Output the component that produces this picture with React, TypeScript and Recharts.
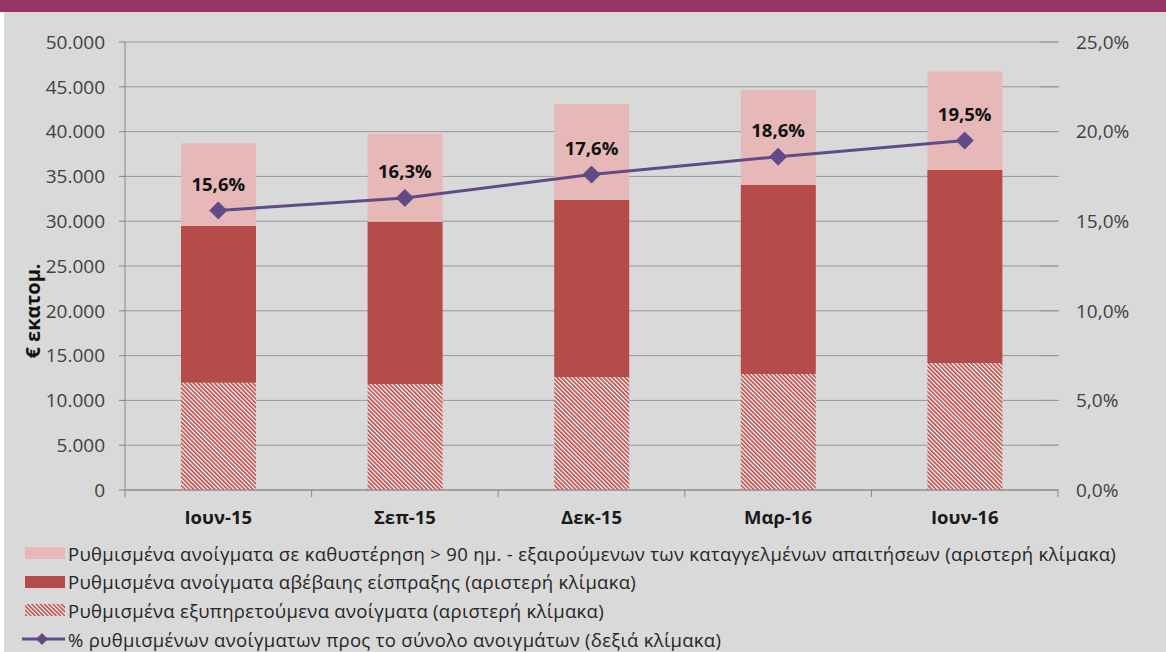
import React from 'react';
import { ComposedChart, Bar, Line, XAxis, YAxis, CartesianGrid, LabelList } from 'recharts';

const categories = ['Ιουν-15', 'Σεπ-15', 'Δεκ-15', 'Μαρ-16', 'Ιουν-16'];
const performing = [11980, 11830, 12600, 12950, 14170];
const uncertain = [17480, 18100, 19770, 21090, 21540];
const overdue = [9240, 9870, 10710, 10600, 11000];
const ratio = [15.6, 16.3, 17.6, 18.6, 19.5];

const leftTicks = [0, 5000, 10000, 15000, 20000, 25000, 30000, 35000, 40000, 45000, 50000];
const rightTicks = [0, 2.5, 5, 7.5, 10, 12.5, 15, 17.5, 20, 22.5, 25];

const legendLabels = [
  'Ρυθμισμένα ανοίγματα σε καθυστέρηση > 90 ημ. - εξαιρούμενων των καταγγελμένων απαιτήσεων (αριστερή κλίμακα)',
  'Ρυθμισμένα ανοίγματα αβέβαιης είσπραξης (αριστερή κλίμακα)',
  'Ρυθμισμένα εξυπηρετούμενα ανοίγματα (αριστερή κλίμακα)',
  '% ρυθμισμένων ανοίγματων προς το σύνολο ανοιγμάτων (δεξιά κλίμακα)',
];
const yAxisTitle = '€ εκατομ.';

const data = categories.map((c, i) => ({
  cat: c,
  performing: performing[i],
  uncertain: uncertain[i],
  overdue: overdue[i],
  ratio: ratio[i],
}));

const FONT = '"Open Sans", sans-serif';
const PINK = '#e6b9b8';
const RED = '#b64c4a';
const PURPLE = '#604a87';
const AXIS = '#868686';
const GRID = '#989898';
const TEXT = '#404040';

const fmtThousands = (n: number) => String(n).replace(/\B(?=(\d{3})+(?!\d))/g, '.');
const fmtPct = (n: number) => n.toFixed(1).replace('.', ',') + '%';

const XTick = (props: any) => {
  const { x, y, payload, index, visibleTicksCount } = props;
  const half = payload && payload.offset ? payload.offset : 93.3;
  return (
    <g>
      <line x1={x - half} x2={x - half} y1={y} y2={y + 7} stroke={AXIS} strokeWidth={1} />
      {index === visibleTicksCount - 1 && (
        <line x1={x + half} x2={x + half} y1={y} y2={y + 7} stroke={AXIS} strokeWidth={1} />
      )}
      <text x={x} y={y + 34} textAnchor="middle" fontFamily={FONT} fontWeight="bold" fontSize={18.5} fill="#1a1a1a">
        {payload.value}
      </text>
    </g>
  );
};

const RightTick = (props: any) => {
  const { x, y, payload } = props;
  const v = payload.value;
  const major = Math.abs(v / 5 - Math.round(v / 5)) < 1e-6;
  return (
    <g>
      <line x1={x - 18} x2={x + 1} y1={y} y2={y} stroke={GRID} strokeWidth={1} />
      {major && (
        <text x={x + 18} y={y} dy="0.36em" textAnchor="start" fontFamily={FONT} fontSize={19} fill={TEXT}>
          {fmtPct(v)}
        </text>
      )}
    </g>
  );
};

const Diamond = (props: any) => {
  const { cx, cy } = props;
  if (cx == null || cy == null) return null;
  const r = 8.5;
  return (
    <polygon
      points={`${cx},${cy - r} ${cx + r},${cy} ${cx},${cy + r} ${cx - r},${cy}`}
      fill={PURPLE}
      stroke={PURPLE}
      strokeWidth={1}
    />
  );
};

const PctLabel = (props: any) => {
  const { x, y, value } = props;
  return (
    <text x={x} y={y - 19.5} textAnchor="middle" fontFamily={FONT} fontWeight="bold" fontSize={18.5} fill="#111">
      {fmtPct(value)}
    </text>
  );
};

const YTitle = (props: any) => {
  const { viewBox } = props;
  const cx = 40;
  const cy = viewBox.y + viewBox.height / 2 + 45;
  return (
    <text
      x={cx}
      y={cy}
      textAnchor="middle"
      transform={`rotate(-90, ${cx}, ${cy})`}
      fontFamily={FONT}
      fontWeight="bold"
      fontSize={20}
      fill="#111"
    >
      {yAxisTitle}
    </text>
  );
};

const Swatch = ({ kind }: { kind: number }) => {
  if (kind === 3) {
    return (
      <svg width={48} height={16} style={{ display: 'block' }}>
        <line x1={2} x2={45} y1={8} y2={8} stroke={PURPLE} strokeWidth={3} />
        <polygon points="22,2 28,8 22,14 16,8" fill={PURPLE} />
      </svg>
    );
  }
  const fill = kind === 0 ? PINK : kind === 1 ? RED : 'url(#hatchPattern)';
  return (
    <svg width={48} height={16} style={{ display: 'block' }}>
      <rect x={5} y={2} width={40} height={12} fill={fill} />
    </svg>
  );
};

export default function App() {
  return (
    <div
      style={{
        position: 'absolute',
        left: 0,
        top: 0,
        width: 1166,
        height: 652,
        background: '#d9d9d9',
        overflow: 'hidden',
      }}
    >
      <svg width={0} height={0} style={{ position: 'absolute' }}>
        <defs>
          <pattern id="hatchPattern" patternUnits="userSpaceOnUse" width={3} height={3} patternTransform="rotate(-45)">
            <rect x={0} y={0} width={3} height={3} fill="#ffffff" />
            <rect x={0} y={0} width={1.7} height={3} fill={RED} />
          </pattern>
        </defs>
      </svg>
      <div style={{ position: 'absolute', left: 0, top: 0, width: 1166, height: 12, background: '#993366' }} />
      <div style={{ position: 'absolute', left: 0, top: 12, width: 4, height: 640, background: '#ffffff' }} />
      <div style={{ position: 'absolute', left: 0, top: 0 }}>
        <ComposedChart
          width={1166}
          height={652}
          data={data}
          margin={{ top: 42, right: 0, bottom: 0, left: 0 }}
          barCategoryGap={0}
        >
          <CartesianGrid vertical={false} stroke={GRID} strokeWidth={1} yAxisId="left" />
          <XAxis
            dataKey="cat"
            height={162}
            tickSize={0}
            tickMargin={0}
            tickLine={false}
            axisLine={{ stroke: AXIS, strokeWidth: 1 }}
            tick={<XTick />}
            interval={0}
          />
          <YAxis
            yAxisId="left"
            orientation="left"
            width={125}
            domain={[0, 50000]}
            ticks={leftTicks}
            tickFormatter={fmtThousands}
            tickSize={6}
            tickMargin={14}
            tickLine={{ stroke: AXIS }}
            axisLine={{ stroke: AXIS, strokeWidth: 1 }}
            tick={{ fontFamily: FONT, fontSize: 19, fill: TEXT }}
            label={<YTitle />}
            interval={0}
          />
          <YAxis
            yAxisId="right"
            orientation="right"
            width={108}
            domain={[0, 25]}
            ticks={rightTicks}
            tickSize={0}
            tickMargin={0}
            tickLine={false}
            axisLine={false}
            tick={<RightTick />}
            interval={0}
          />
          <Bar yAxisId="left" dataKey="performing" stackId="s" fill="url(#hatchPattern)" barSize={75} isAnimationActive={false} />
          <Bar yAxisId="left" dataKey="uncertain" stackId="s" fill={RED} barSize={75} isAnimationActive={false} />
          <Bar yAxisId="left" dataKey="overdue" stackId="s" fill={PINK} barSize={75} isAnimationActive={false} />
          <Line
            yAxisId="right"
            dataKey="ratio"
            stroke={PURPLE}
            strokeWidth={3}
            dot={<Diamond />}
            activeDot={false}
            isAnimationActive={false}
          >
            <LabelList dataKey="ratio" content={<PctLabel />} />
          </Line>
        </ComposedChart>
      </div>
      <div
        style={{
          position: 'absolute',
          left: 20,
          top: 539,
          fontFamily: FONT,
          fontSize: 18.5,
          letterSpacing: 0.3,
          color: '#262626',
        }}
      >
        {legendLabels.map((t, i) => (
          <div key={i} style={{ display: 'flex', alignItems: 'center', height: 28.6, whiteSpace: 'nowrap' }}>
            <Swatch kind={i} />
            <span>{t}</span>
          </div>
        ))}
      </div>
    </div>
  );
}
